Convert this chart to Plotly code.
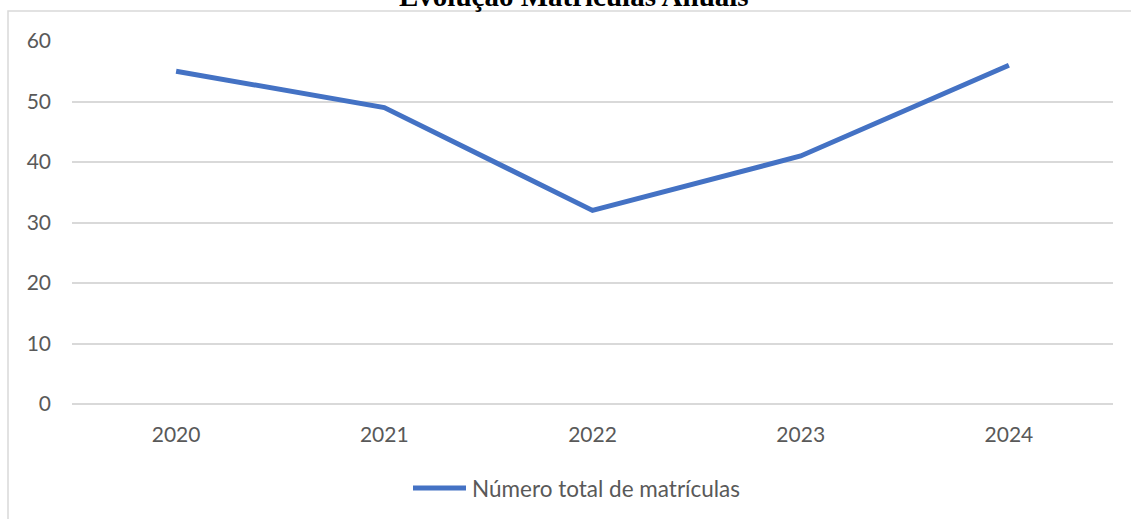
import plotly.graph_objects as go

years = ["2020", "2021", "2022", "2023", "2024"]
enrollments = [55, 49, 32, 41, 56]
series_name = "Número total de matrículas"
title_text = "Evolução Matrículas Anuais"
y_ticks = [0, 10, 20, 30, 40, 50, 60]

LINE = "#4472C4"
GRID = "#D9D9D9"
TXT = "#595959"
FONT = "Lato"

W, H = 1131, 519
L, R, T, B = 72, 18, 41, 115
pw, ph = W - L - R, H - T - B

def px(xp):
    return (xp - L) / pw

def py(yp):
    return (H - B - yp) / ph

fig = go.Figure()
fig.add_trace(go.Scatter(
    x=years, y=enrollments, mode="lines", name=series_name,
    line=dict(color=LINE, width=5), showlegend=False,
))

fig.update_layout(
    width=W, height=H,
    margin=dict(l=L, r=R, t=T, b=B),
    paper_bgcolor="white", plot_bgcolor="white",
    font=dict(family=FONT, color=TXT, size=21),
    xaxis=dict(type="category", range=[-0.5, 4.5], showgrid=False, zeroline=False,
               showline=False, ticks="", ticklabelstandoff=16,
               tickfont=dict(family=FONT, size=21, color=TXT)),
    yaxis=dict(range=[0, 60], tickvals=y_ticks, showgrid=True, gridcolor=GRID, gridwidth=1.5,
               zeroline=True, zerolinecolor=GRID, zerolinewidth=1.5,
               showline=False, ticks="", ticklabelstandoff=20,
               tickfont=dict(family=FONT, size=21, color=TXT)),
    shapes=[
        dict(type="rect", xref="paper", yref="paper",
             x0=px(8), x1=px(1160), y0=py(560), y1=py(11),
             line=dict(color=GRID, width=1.5), fillcolor="rgba(0,0,0,0)", layer="below"),
        dict(type="line", xref="paper", yref="paper",
             x0=px(413), x1=px(466), y0=py(488), y1=py(488),
             line=dict(color=LINE, width=5)),
    ],
    annotations=[
        dict(text=series_name, xref="paper", yref="paper", x=px(470), y=py(488),
             xanchor="left", yanchor="middle", showarrow=False,
             font=dict(family=FONT, size=22.5, color=TXT)),
        dict(text="<b>" + title_text + "</b>", xref="paper", yref="paper", x=px(574), y=py(14),
             xanchor="center", yanchor="bottom", showarrow=False,
             font=dict(family="Liberation Serif", size=29, color="black")),
    ],
)

fig.write_html("out.html", config={"displayModeBar": False},
               post_script="document.body.style.margin='0';")
